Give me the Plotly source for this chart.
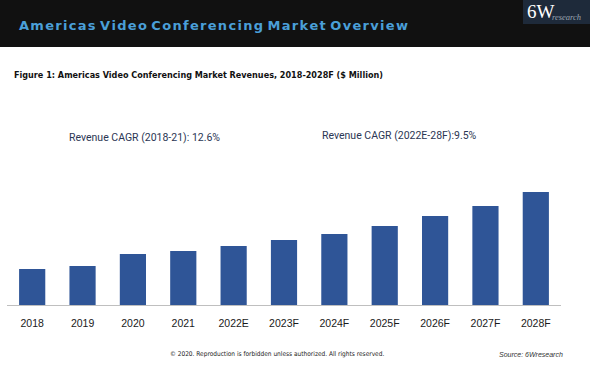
import plotly.graph_objects as go

categories = ["2018", "2019", "2020", "2021", "2022E", "2023F", "2024F", "2025F", "2026F", "2027F", "2028F"]
revenues = [36, 39, 51, 54, 59, 65, 71, 79, 89, 99, 113]

fig = go.Figure()
fig.add_trace(go.Bar(x=categories, y=revenues, marker=dict(color="#2F5597", line=dict(width=0)), hoverinfo="x+y"))

W, H = 590, 366
fig.update_layout(
    width=W, height=H,
    margin=dict(l=7, r=29, t=185, b=61),
    paper_bgcolor="white", plot_bgcolor="white",
    bargap=0.48, showlegend=False,
    xaxis=dict(showgrid=False, showline=True, linecolor="#BFBFBF", linewidth=1,
               ticks="outside", ticklen=8, tickcolor="rgba(0,0,0,0)",
               tickfont=dict(family="Liberation Sans, Arial, sans-serif", size=10.5, color="#1a1a1a"),
               fixedrange=True),
    yaxis=dict(visible=False, range=[0, 120], fixedrange=True),
)

def px_x(px):
    return (px - 7) / (561 - 7)

def px_y(py):
    return (305 - py) / (305 - 185)

# header band
fig.add_shape(type="rect", xref="paper", yref="paper", x0=px_x(0), x1=px_x(590), y0=px_y(47), y1=px_y(0),
              fillcolor="#111111", line=dict(width=0), layer="below")
# logo box
fig.add_shape(type="rect", xref="paper", yref="paper", x0=px_x(523), x1=px_x(590), y0=px_y(24), y1=px_y(0),
              fillcolor="#1E2A3A", line=dict(width=0))

title_text = "Americas Video Conferencing Market Overview"
spaced = " ".join("\u200a".join(list(w)) for w in title_text.split(" "))

ann = []
ann.append(dict(text="<b>" + spaced + "</b>",
                x=px_x(17), y=px_y(26), xanchor="left", yanchor="middle",
                font=dict(family="DejaVu Sans, sans-serif", size=13, color="#4A9FD8")))
ann.append(dict(text="6W", x=px_x(525), y=px_y(12), xanchor="left", yanchor="middle",
                font=dict(family="Liberation Serif, serif", size=19, color="white")))
ann.append(dict(text="<i>research</i>", x=px_x(550), y=px_y(17), xanchor="left", yanchor="middle",
                font=dict(family="Liberation Serif, serif", size=8.5, color="#9aa4b0")))
ann.append(dict(text="<b>Figure 1: Americas Video Conferencing Market Revenues, 2018-2028F ($ Million)</b>",
                x=px_x(12), y=px_y(75), xanchor="left", yanchor="middle",
                font=dict(family="Liberation Sans Narrow, Arial Narrow, DejaVu Sans Condensed, sans-serif", size=9, color="#111111")))
ann.append(dict(text="Revenue CAGR (2018-21): 12.6%", x=px_x(67), y=px_y(137), xanchor="left", yanchor="middle",
                font=dict(family="Roboto, sans-serif", size=10.5, color="#2B3654")))
ann.append(dict(text="Revenue CAGR (2022E-28F):9.5%", x=px_x(320), y=px_y(135), xanchor="left", yanchor="middle",
                font=dict(family="Roboto, sans-serif", size=10.5, color="#2B3654")))
ann.append(dict(text="© 2020. Reproduction is forbidden unless authorized. All rights reserved.", x=px_x(168), y=px_y(354),
                xanchor="left", yanchor="middle",
                font=dict(family="Liberation Sans Narrow, DejaVu Sans Condensed, sans-serif", size=6.5, color="#222222")))
ann.append(dict(text="<i>Source: 6Wresearch</i>", x=px_x(497), y=px_y(354), xanchor="left", yanchor="middle",
                font=dict(family="Liberation Sans, sans-serif", size=7, color="#333333")))
for a in ann:
    a.update(xref="paper", yref="paper", showarrow=False)
fig.update_layout(annotations=ann)

fig.write_html("out.html", config={"displayModeBar": False},
               post_script="document.body.style.margin='0px';document.body.style.padding='0px';")
